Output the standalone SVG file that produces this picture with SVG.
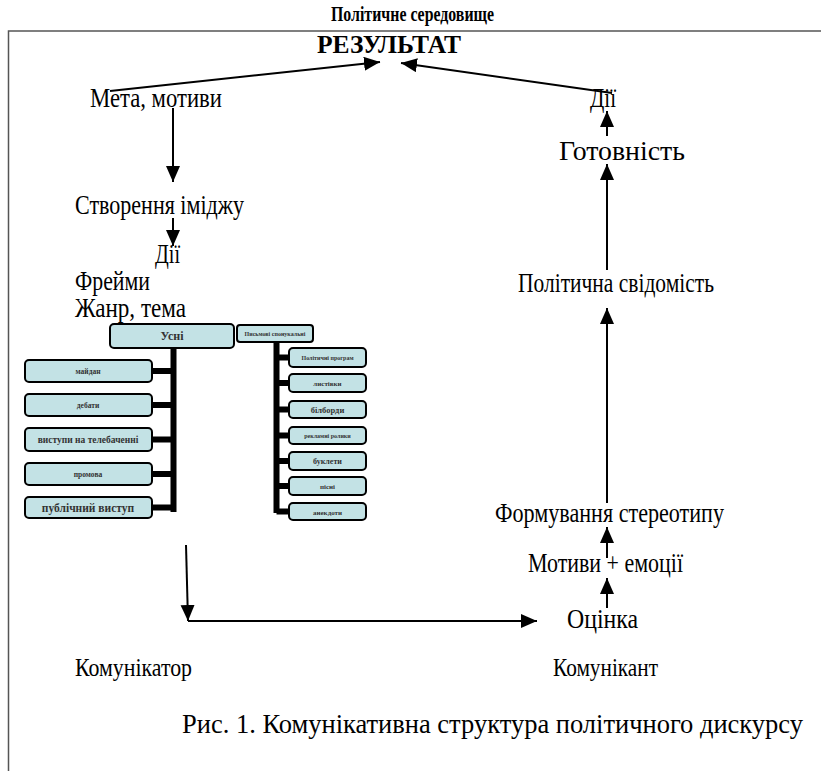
<svg xmlns="http://www.w3.org/2000/svg" width="821" height="771" viewBox="0 0 821 771" font-family="'Liberation Serif', 'DejaVu Serif', serif">
<defs>
<marker id="ah" markerUnits="userSpaceOnUse" markerWidth="17" markerHeight="15" refX="16" refY="7" orient="auto">
<path d="M0,0 L16,7 L0,14 z" fill="#000"/>
</marker>
<style>
.t{fill:#000;font-size:27px}
.b{font-weight:bold}
.s20{font-size:22px}
.s25{font-size:25px}
.s23{font-size:25px}
.c{stroke:#000;stroke-width:2;fill:none;marker-end:url(#ah)}
.box{fill:#c3e2e5;stroke:#000;stroke-width:2}
.bt{fill:#333;font-weight:bold;text-anchor:middle}
.sp{stroke:#000;stroke-width:6;fill:none}
</style>
</defs>
<g id="frame">
<path d="M8.5,771 L8.5,31 L821,31" fill="none" stroke="#555" stroke-width="1.5"/>
</g>
<g id="title"><text class="t b s20" x="331" y="21" textLength="163" lengthAdjust="spacingAndGlyphs">Політичне середовище</text></g>
<g id="result"><text class="t b s25" x="317" y="53" textLength="144" lengthAdjust="spacingAndGlyphs">РЕЗУЛЬТАТ</text></g>
<g id="meta"><text class="t" x="90" y="107" textLength="132" lengthAdjust="spacingAndGlyphs">Мета, мотиви</text></g>
<g id="image"><text class="t" x="75" y="214" textLength="169" lengthAdjust="spacingAndGlyphs">Створення іміджу</text></g>
<g id="dii-left"><text class="t" x="155" y="263" textLength="25" lengthAdjust="spacingAndGlyphs">Дії</text></g>
<g id="frames"><text class="t" x="75" y="290" textLength="75" lengthAdjust="spacingAndGlyphs">Фрейми</text></g>
<g id="genre"><text class="t" x="75" y="317" textLength="111" lengthAdjust="spacingAndGlyphs">Жанр, тема</text></g>
<g id="dii-right"><text class="t" x="590" y="107" textLength="26" lengthAdjust="spacingAndGlyphs">Дії</text></g>
<g id="ready"><text class="t" x="559" y="160" textLength="126" lengthAdjust="spacingAndGlyphs">Готовність</text></g>
<g id="conscious"><text class="t" x="518" y="292" textLength="196" lengthAdjust="spacingAndGlyphs">Політична свідомість</text></g>
<g id="stereo"><text class="t" x="495" y="522" textLength="229" lengthAdjust="spacingAndGlyphs">Формування стереотипу</text></g>
<g id="motives"><text class="t" x="528" y="572" textLength="155" lengthAdjust="spacingAndGlyphs">Мотиви + емоції</text></g>
<g id="eval"><text class="t" x="567" y="628" textLength="71" lengthAdjust="spacingAndGlyphs">Оцінка</text></g>
<g id="communicator"><text class="t s23" x="75" y="676" textLength="117" lengthAdjust="spacingAndGlyphs">Комунікатор</text></g>
<g id="communicant"><text class="t s23" x="553" y="676" textLength="105" lengthAdjust="spacingAndGlyphs">Комунікант</text></g>
<g id="caption"><text class="t" x="182" y="733" textLength="621" lengthAdjust="spacingAndGlyphs">Рис. 1. Комунікативна структура політичного дискурсу</text></g>

<g id="connectors">
<line class="c" x1="110" y1="91" x2="380" y2="62"/>
<line class="c" x1="612" y1="93" x2="401" y2="63"/>
<line class="c" x1="173" y1="108" x2="173" y2="182"/>
<line class="c" x1="173" y1="218" x2="173" y2="246"/>
<line class="c" x1="607" y1="136" x2="607" y2="111"/>
<line class="c" x1="607" y1="270" x2="607" y2="164"/>
<line class="c" x1="607" y1="503" x2="607" y2="308"/>
<line class="c" x1="607" y1="558" x2="607" y2="527"/>
<line class="c" x1="607" y1="608" x2="607" y2="578"/>
<line class="c" x1="186" y1="545" x2="188" y2="621"/>
<line class="c" x1="188" y1="621" x2="537" y2="621"/>
<path class="sp" d="M173.5,348 V512 M152,371 H173.5 M152,405 H173.5 M152,439.5 H173.5 M152,474 H173.5 M152,507.5 H173.5"/>
<path class="sp" d="M276.5,342 V513 M276.5,357.5 H289 M276.5,383 H289 M276.5,409.5 H289 M276.5,435.5 H289 M276.5,461 H289 M276.5,486 H289 M276.5,511.5 H289"/>
</g>

<g id="usni"><rect class="box" x="110" y="324" width="124" height="24" rx="4"/><text class="bt" x="172" y="340" font-size="12">Усні</text></g>
<g id="pysmovi"><rect class="box" x="237" y="325" width="76" height="17" rx="3"/><text class="bt" x="275" y="336" font-size="6">Письмові спонукальні</text></g>

<g id="maidan"><rect class="box" x="25" y="360" width="127" height="22" rx="4"/><text class="bt" x="88" y="374" font-size="7.5">майдан</text></g>
<g id="debaty"><rect class="box" x="25" y="394" width="127" height="22" rx="4"/><text class="bt" x="88" y="408" font-size="7.5">дебати</text></g>
<g id="tv"><rect class="box" x="25" y="428" width="127" height="23" rx="4"/><text class="bt" x="88" y="443" font-size="9.5">виступи на телебаченні</text></g>
<g id="promova"><rect class="box" x="25" y="463" width="127" height="22" rx="4"/><text class="bt" x="88" y="477" font-size="7.5">промова</text></g>
<g id="public"><rect class="box" x="25" y="497" width="127" height="21" rx="4"/><text class="bt" x="88" y="512" font-size="11.5">публічний виступ</text></g>

<g id="prog"><rect class="box" x="289" y="348" width="77" height="19" rx="4"/><text class="bt" x="327.5" y="360" font-size="6">Політичні програм</text></g>
<g id="lystivky"><rect class="box" x="289" y="374" width="77" height="18" rx="4"/><text class="bt" x="327.5" y="386" font-size="7">листівки</text></g>
<g id="bilbordy"><rect class="box" x="289" y="401" width="77" height="17" rx="4"/><text class="bt" x="327.5" y="413" font-size="8.5">білборди</text></g>
<g id="rolyky"><rect class="box" x="289" y="427" width="77" height="17" rx="4"/><text class="bt" x="327.5" y="438" font-size="6">рекламні ролики</text></g>
<g id="buklety"><rect class="box" x="289" y="452" width="77" height="18" rx="4"/><text class="bt" x="327.5" y="464" font-size="8">буклети</text></g>
<g id="pisni"><rect class="box" x="289" y="477" width="77" height="18" rx="4"/><text class="bt" x="327.5" y="489" font-size="7">пісні</text></g>
<g id="anekdoty"><rect class="box" x="289" y="503" width="77" height="17" rx="4"/><text class="bt" x="327.5" y="515" font-size="7">анекдоти</text></g>
</svg>
